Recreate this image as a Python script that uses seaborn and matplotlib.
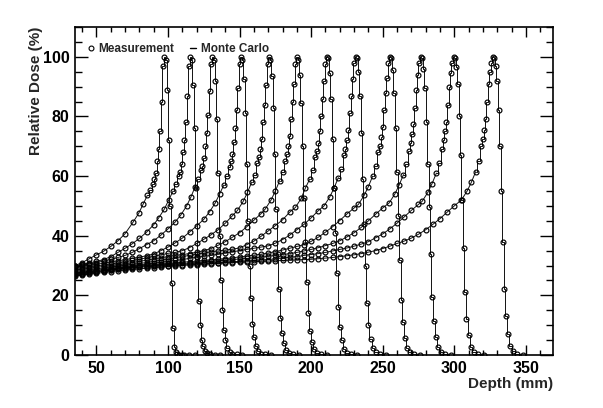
import matplotlib
matplotlib.use('Agg')
import matplotlib.pyplot as plt
import seaborn as sns
import pandas as pd
from matplotlib.lines import Line2D
from matplotlib.ticker import MultipleLocator

# Depth-dose curves (depth in mm, relative dose in %)
depth_01 = [35, 40, 45, 50, 55, 60, 65, 70, 75.5, 79.5, 82.5, 85.5, 87.5, 89.5, 90.5, 91.5, 92.5, 93.5, 94.5, 95.5, 96.5, 97.5,
            98.5, 99.5, 100.5, 101.5, 102.5, 103.5, 104.5, 105.5, 106.5, 108, 109.5, 111.5, 114.5, 118.5]
dose_01 = [30, 31, 32.3, 33.6, 34.8, 36.4, 38.3, 40.7, 44.5, 47.5, 50.5, 53.5, 55.5, 57.5, 59, 61, 65, 69, 75, 85, 97, 100,
           99, 89, 72, 50, 24, 9, 2.8, 1, 0.4, 0.1, 0, 0, 0, 0]

depth_02 = [35, 40, 45, 50, 55, 60, 65, 70, 75, 80, 85, 90, 93.5, 97.5, 100.5, 103.5, 105.5, 107.5, 108.5, 109.5, 110.5,
            111.5, 112.5, 113.5, 114.5, 115.5,
            116.5, 117.5, 118.5, 119.5, 120.5, 121.5, 122.5, 123.5, 124.5, 126, 127.5, 129.5, 132.5, 136.5]
dose_02 = [30, 30.4, 30.9, 31.4, 32, 33, 34.4, 35.8, 37.3, 39.1, 41.2, 43.7, 46, 49, 52, 55, 57.5, 60, 61.5, 64, 68,
           72, 78, 87, 97, 100,
           99, 90.5, 76, 56, 33, 18, 10, 5, 3, 1.5, 0.6, 0.2, 0.1, 0]

depth_03 = [35, 40, 45, 50, 55, 60, 65, 70, 75, 80, 85, 90, 95, 100, 105, 109, 113, 116, 119, 121, 123, 124, 125, 126,
            127, 128, 129, 130, 131,
            132, 133, 134, 135, 136, 137, 138, 139, 140, 141.5, 143, 145, 148, 152]
dose_03 = [29.8, 30.1, 30.5, 31, 31.5, 32.1, 32.7, 33.4, 34.4, 35.7, 37, 38.3, 40.2, 42.3, 44.6, 47, 50, 53, 56.5, 59, 62, 63.5, 66, 70,
           74.5, 80.5, 88.5, 97.5, 100,
           99, 92, 79, 61, 40, 25, 15, 8.5, 5, 2.5, 1, 0.4, 0.2, 0]

depth_04 = [35, 40, 45, 50, 55, 60, 65, 70, 75, 80, 85, 90, 95, 100, 105, 110, 115, 120, 125, 129, 133, 136, 139, 141,
            143, 144, 145, 146, 147, 148, 149, 150, 151,
            152, 153, 154, 155, 156, 157, 158, 159, 160, 161.5, 163, 165, 168, 172]
dose_04 = [29.5, 29.8, 30.1, 30.4, 30.8, 31.2, 31.6, 32, 32.4, 32.8, 33.3, 33.9, 35, 36.2, 37.6, 39.2, 41.2, 43.3, 45.5, 48, 51, 54, 57, 60,
           63, 65, 67.5, 71.5, 76, 82, 89.5, 97.5, 100,
           99, 92.5, 81, 64, 45, 30, 19, 10.5, 6, 3, 1.3, 0.5, 0.2, 0]

depth_05 = [35, 40, 45, 50, 55, 60, 65, 70, 75, 80, 85, 90, 95, 100, 105, 110, 115, 120, 125, 130, 135, 140, 145, 148.5,
            152.5, 155.5, 158.5, 160.5, 162.5, 163.5, 164.5, 165.5, 166.5, 167.5, 168.5, 169.5, 170.5,
            171.5, 172.5, 173.5, 174.5, 175.5, 176.5, 177.5, 178.5, 179.5, 181, 182.5, 184.5, 187.5, 191.5]
dose_05 = [29, 29.3, 29.6, 29.9, 30.2, 30.5, 30.9, 31.3, 31.7, 32.1, 32.6, 33.1, 33.6, 34.1, 34.4, 35, 36, 37.4, 38.8, 40.3, 42, 44.2, 46.7, 48.5,
           51.5, 54.5, 58, 60.5, 64.5, 66.5, 69, 72.5, 78, 84, 90.5, 97.5, 100,
           99, 93.5, 83, 67.5, 49, 34, 22, 12.5, 7.3, 3.9, 1.6, 0.7, 0.3, 0]

depth_06 = [35, 40, 45, 50, 55, 60, 65, 70, 75, 80, 85, 90, 95, 100, 105, 110, 115, 120, 125, 130, 135, 140, 145, 150,
            155, 160, 165, 168, 172, 175, 178, 180, 182, 183, 184, 185, 186, 187, 188, 189, 190,
            191, 192, 193, 194, 195, 196, 197, 198, 199, 200.5, 202, 204, 207, 211]
dose_06 = [28.5, 28.8, 29.1, 29.4, 29.7, 30, 30.3, 30.6, 31, 31.4, 31.8, 32.2, 32.6, 33, 33.4, 33.7, 34, 34.5, 35, 35.7, 36.8, 38, 39.5, 41,
           43, 45.2, 47.4, 49, 52, 55, 58.5, 61.5, 65, 67.5, 70, 73.5, 79, 85, 91, 97.5, 100,
           99, 94, 84.5, 70, 52.5, 38, 24.5, 14, 8.2, 4.4, 1.9, 0.7, 0.3, 0]

depth_07 = [35, 40, 45, 50, 55, 60, 65, 70, 75, 80, 85, 90, 95, 100, 105, 110, 115, 120, 125, 130, 135, 140, 145, 150,
            155, 160, 165, 170, 175, 180, 185, 189, 193, 196, 199, 201, 203, 204, 205, 206, 207, 208, 209, 210, 211,
            212, 213, 214, 215, 216, 217, 218, 219, 220, 221.5, 223, 225, 228, 232]
dose_07 = [28, 28.3, 28.6, 28.9, 29.2, 29.5, 29.8, 30.1, 30.4, 30.7, 31, 31.4, 31.8, 32.2, 32.6, 33, 33.4, 33.8, 34.2, 34.6, 34.9, 35.2, 35.5, 35.9,
           37, 38.2, 39.8, 41.6, 43.4, 45.3, 47.9, 49.5, 52.5, 56, 59, 62, 66.5, 68.5, 71, 75, 80, 86, 92, 97.5, 100,
           99.5, 94.5, 86, 72.5, 56, 41, 27.5, 16, 9.3, 5, 2.1, 0.8, 0.4, 0]

depth_08 = [35, 40, 45, 50, 55, 60, 65, 70, 75, 80, 85, 90, 95, 100, 105, 110, 115, 120, 125, 130, 135, 140, 145, 150,
            155, 160, 165, 170, 175, 180, 185, 190, 195, 200, 205, 209, 213, 216, 219, 221, 223, 224, 225, 226, 227, 228,
            229, 230, 231,
            232, 233, 234, 235, 236, 237, 238, 239, 240, 241.5, 243, 245, 248, 252]
dose_08 = [27.5, 27.8, 28.1, 28.4, 28.7, 29, 29.3, 29.6, 29.9, 30.2, 30.5, 30.8, 31.1, 31.4, 31.7, 32, 32.4, 32.8, 33.1, 33.4, 33.8, 34.2, 34.6, 35,
           35.4, 35.8, 36.2, 36.6, 37.5, 38.7, 40.2, 42, 43.8, 46, 48.4, 50, 53, 56, 59.5, 62.5, 67, 69, 72, 75.5, 81, 87,
           92.5, 98, 100,
           99.5, 95, 87, 74.5, 59, 44, 30, 17.5, 10, 5.5, 2.3, 0.9, 0.4, 0]

depth_09 = [35, 40, 45, 50, 55, 60, 65, 70, 75, 80, 85, 90, 95, 100, 105, 110, 115, 120, 125, 130, 135, 140, 145, 150,
            155, 160, 165, 170, 175, 180, 185, 190, 195, 200, 205, 210, 215, 220, 225, 230, 233, 237, 240, 243, 245, 247,
            248, 249, 250, 251, 252, 253, 254, 255,
            256, 257, 258, 259, 260, 261, 262, 263, 264, 265.5, 267, 269, 272, 276]
dose_09 = [27.3, 27.6, 27.9, 28.3, 28.6, 28.9, 29.2, 29.4, 29.6, 29.9, 30.1, 30.3, 30.5, 30.7, 30.9, 31.1, 31.3, 31.5, 31.7, 31.9, 32.1, 32.3, 32.6, 32.9,
           33.2, 33.5, 33.8, 34.2, 34.7, 35.2, 35.8, 36.4, 37, 38.1, 39.5, 41.2, 43, 45.1, 47.3, 49.3, 50.5, 53.5, 56.5, 60, 63.5, 68,
           70, 73, 76.5, 82, 88, 93, 98, 100,
           99.5, 95.5, 88, 76, 61.5, 46.5, 32, 18.5, 11, 5.8, 2.5, 1, 0.4, 0]

depth_10 = [35, 40, 45, 50, 55, 60, 65, 70, 75, 80, 85, 90, 95, 100, 105, 110, 115, 120, 125, 130, 135, 140, 145, 150,
            155, 160, 165, 170, 175, 180, 185, 190, 195, 200, 205, 210, 215, 220, 225, 230, 235, 240, 245, 250, 254.5,
            258.5, 261.5, 264.5, 266.5, 268.5, 269.5, 270.5, 271.5, 272.5, 273.5, 274.5, 275.5, 276.5,
            277.5, 278.5, 279.5, 280.5, 281.5, 282.5, 283.5, 284.5, 285.5, 287, 288.5, 290.5, 293.5, 297.5]
dose_10 = [27, 27.3, 27.7, 28, 28.3, 28.6, 28.9, 29.2, 29.4, 29.6, 29.8, 30, 30.2, 30.4, 30.5, 30.7, 30.8, 31, 31.2, 31.4, 31.6, 31.8, 32, 32.2,
           32.4, 32.6, 32.8, 33.1, 33.4, 33.7, 34, 34.4, 34.9, 35.4, 36, 36.7, 37.4, 38.3, 39.6, 41, 42.8, 45, 47.2, 49.3, 51,
           54, 57, 60.5, 64, 68.5, 71, 74, 77.5, 83, 89, 94, 98, 100,
           99.5, 96, 89.5, 78, 64, 49.5, 34, 19.5, 11.5, 6.2, 2.6, 1.1, 0.4, 0]

depth_11 = [35, 40, 45, 50, 55, 60, 65, 70, 75, 80, 85, 90, 95, 100, 105, 110, 115, 120, 125, 130, 135, 140, 145, 150,
            155, 160, 165, 170, 175, 180, 185, 190, 195, 200, 205, 210, 215, 220, 225, 230, 235, 240, 245, 250, 255,
            260, 265, 270, 275, 277.5, 281.5, 284.5, 287.5, 289.5, 291.5, 292.5, 293.5, 294.5, 295.5, 296.5, 297.5,
            298.5, 299.5,
            300.5, 301.5, 302.5, 303.5, 304.5, 305.5, 306.5, 307.5, 308.5, 310, 311.5, 313.5, 316.5, 320.5]
dose_11 = [26.7, 27, 27.4, 27.8, 28.2, 28.5, 28.8, 29, 29.2, 29.4, 29.6, 29.8, 29.9, 30, 30.2, 30.3, 30.5, 30.6, 30.8, 30.9, 31, 31.1, 31.3, 31.4,
           31.6, 31.7, 31.9, 32, 32.3, 32.5, 32.8, 33, 33.4, 33.7, 34, 34.4, 34.9, 35.4, 35.9, 36.5, 37.2, 38, 39.3, 40.6, 42.3,
           44.2, 46.3, 48.5, 50.5, 51.5, 54.5, 57.5, 61, 64.5, 69, 72, 75, 78, 84, 90, 94.5,
           98, 100,
           99.5, 96.5, 91, 80, 67, 52, 36, 21, 12.2, 6.6, 2.8, 1.1, 0.5, 0]

depth_12 = [35, 40, 45, 50, 55, 60, 65, 70, 75, 80, 85, 90, 95, 100, 105, 110, 115, 120, 125, 130, 135, 140, 145, 150,
            155, 160, 165, 170, 175, 180, 185, 190, 195, 200, 205, 210, 215, 220, 225, 230, 235, 240, 245, 250, 255,
            260, 265, 270, 275, 280, 285, 290, 295, 300, 305, 309, 312, 315, 317, 319, 320, 321, 322, 323, 324, 325,
            326, 327,
            328, 329, 330, 331, 332, 333, 334, 335, 336, 337.5, 339, 341, 344, 348]
dose_12 = [26.5, 26.8, 27.1, 27.4, 27.7, 28, 28.3, 28.5, 28.7, 28.9, 29.1, 29.3, 29.5, 29.7, 29.9, 30, 30.2, 30.3, 30.5, 30.6, 30.7, 30.9, 31, 31.1,
           31.2, 31.3, 31.4, 31.5, 31.6, 31.7, 31.8, 31.9, 32, 32.1, 32.3, 32.5, 32.7, 33, 33.3, 33.6, 34, 34.5, 35, 35.7, 36.5,
           37.4, 38.2, 39.2, 40.5, 42, 43.8, 45.7, 47.9, 50, 52, 55, 58, 61.5, 65, 70, 72.5, 75.5, 79, 85, 91, 95,
           98, 100,
           99.5, 97, 92, 82, 70, 55, 38, 22, 13, 7, 3, 1.2, 0.5, 0]

curves = [(depth_01, dose_01), (depth_02, dose_02), (depth_03, dose_03), (depth_04, dose_04),
          (depth_05, dose_05), (depth_06, dose_06), (depth_07, dose_07), (depth_08, dose_08),
          (depth_09, dose_09), (depth_10, dose_10), (depth_11, dose_11), (depth_12, dose_12)]

frames = []
for i, (d, v) in enumerate(curves, 1):
    part = pd.DataFrame({'curve': i, 'depth': d, 'dose': v})
    peak = part.loc[part['dose'].idxmax(), 'depth']
    part['near_peak'] = part['depth'] >= peak - 12
    part['plateau'] = part['depth'] <= peak - 12
    frames.append(part)
df = pd.concat(frames, ignore_index=True)

sns.set_theme(style='ticks')
plt.rcParams['font.family'] = ['Liberation Sans', 'DejaVu Sans']
plt.rcParams['font.weight'] = 'bold'

fig = plt.figure(figsize=(6.03, 4.08), dpi=100)
ax = fig.add_axes([0.1244, 0.1299, 0.7927, 0.8039])

# Monte Carlo: smooth in the plateau, step histogram around the peak
sns.lineplot(data=df[df['plateau']], x='depth', y='dose', units='curve', estimator=None,
             color='#111111', lw=0.7, legend=False, ax=ax)
sns.lineplot(data=df[df['near_peak']], x='depth', y='dose', units='curve', estimator=None,
             color='#111111', lw=0.7, drawstyle='steps-mid', legend=False, ax=ax)
# Measurement: open circles
sns.lineplot(data=df, x='depth', y='dose', units='curve', estimator=None, color='black',
             ls='none', marker='o', ms=3.5, mfc='none', mec='black', mew=0.85, legend=False, ax=ax)

ax.set_xlim(35, 369)
ax.set_ylim(0, 110)
ax.xaxis.set_major_locator(MultipleLocator(50))
ax.xaxis.set_minor_locator(MultipleLocator(10))
ax.yaxis.set_major_locator(MultipleLocator(20))
ax.yaxis.set_minor_locator(MultipleLocator(5))
ax.tick_params(which='both', direction='in', top=True, right=True, width=1, labelsize=11.5, colors='black')
ax.tick_params(axis='x', which='major', length=7, pad=4)
ax.tick_params(axis='x', which='minor', length=3.5)
ax.tick_params(axis='y', which='major', length=9.5, pad=4)
ax.tick_params(axis='y', which='minor', length=5)
for s in ax.spines.values():
    s.set_linewidth(1.2)
    s.set_color('black')

ax.set_xlabel('Depth (mm)', loc='right', fontsize=11, fontweight='bold', labelpad=1)
ax.set_ylabel('Relative Dose (%)', loc='top', fontsize=11, fontweight='bold', labelpad=0)

handles = [Line2D([], [], ls='none', marker='o', ms=3.5, mfc='none', mec='black', mew=0.8),
           Line2D([], [], color='black', lw=1)]
ax.legend(handles, ['Measurement', 'Monte Carlo'], loc='upper left', bbox_to_anchor=(0.01, 0.975),
          ncol=2, frameon=False, fontsize=8.5, handlelength=0.5, handletextpad=0.4,
          columnspacing=1.3, borderaxespad=0.3)

fig.savefig('out.png', dpi=100)
